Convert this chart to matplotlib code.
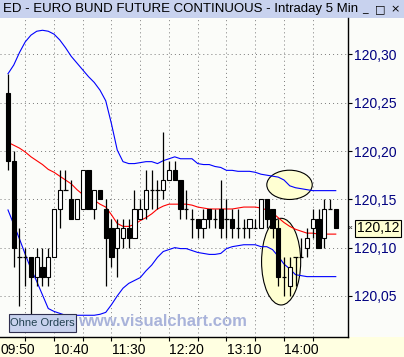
import matplotlib
matplotlib.use('Agg')
import matplotlib.pyplot as plt
from matplotlib.patches import Rectangle, Ellipse
from matplotlib.transforms import blended_transform_factory
import numpy as np

plt.rcParams['font.family'] = ['Liberation Sans', 'DejaVu Sans']
plt.rcParams['lines.scale_dashes'] = False

# ---------------- data ----------------
opens = [120.26,120.19,120.09,120.09,120.09,120.07,120.08,120.07,120.09,120.14,
         120.16,120.15,120.13,120.14,120.18,120.14,120.16,120.14,120.12,120.10,
         120.11,120.12,120.11,120.13,120.14,120.16,120.16,120.16,120.17,120.18,
         120.17,120.14,120.13,120.13,120.12,120.14,120.13,120.14,120.13,120.13,
         120.12,120.12,120.12,120.12,120.12,120.15,120.14,120.12,120.07,120.06,
         120.09,120.09,120.10,120.12,120.13,120.11,120.14,120.14]
highs = [120.28,120.20,120.12,120.10,120.09,120.10,120.10,120.10,120.14,120.18,
         120.18,120.17,120.15,120.18,120.18,120.16,120.16,120.15,120.13,120.13,
         120.13,120.13,120.16,120.15,120.18,120.18,120.17,120.22,120.19,120.19,
         120.17,120.16,120.14,120.13,120.14,120.14,120.14,120.17,120.15,120.14,
         120.14,120.13,120.13,120.13,120.15,120.15,120.14,120.13,120.09,120.09,
         120.09,120.11,120.12,120.14,120.14,120.15,120.15,120.14]
lows = [120.18,120.08,120.04,120.06,120.03,120.06,120.06,120.06,120.09,120.12,
        120.16,120.13,120.13,120.14,120.14,120.13,120.15,120.06,120.08,120.07,
        120.10,120.10,120.11,120.13,120.13,120.14,120.14,120.15,120.17,120.17,
        120.13,120.13,120.11,120.11,120.11,120.12,120.12,120.11,120.11,120.11,
        120.11,120.11,120.11,120.12,120.12,120.12,120.11,120.06,120.05,120.05,
        120.06,120.09,120.09,120.11,120.10,120.10,120.14,120.12]
closes = [120.19,120.10,120.09,120.09,120.07,120.09,120.07,120.09,120.14,120.16,
          120.16,120.13,120.15,120.18,120.14,120.16,120.15,120.11,120.09,120.12,
          120.12,120.11,120.14,120.14,120.16,120.16,120.16,120.17,120.18,120.17,
          120.14,120.14,120.13,120.12,120.13,120.13,120.13,120.12,120.13,120.12,
          120.12,120.12,120.13,120.12,120.15,120.13,120.12,120.07,120.07,120.08,
          120.09,120.09,120.11,120.13,120.10,120.14,120.14,120.12]

ma_line = [120.209,120.206,120.203,120.199,120.194,120.190,120.186,120.181,120.178,120.174,
           120.170,120.166,120.160,120.155,120.151,120.149,120.145,120.142,120.134,120.125,
           120.122,120.122,120.124,120.128,120.131,120.135,120.140,120.143,120.145,120.145,
           120.145,120.145,120.144,120.142,120.141,120.140,120.140,120.140,120.140,120.140,
           120.141,120.142,120.142,120.142,120.141,120.139,120.136,120.131,120.126,120.122,
           120.119,120.117,120.115,120.115,120.114,120.114,120.114,120.114]
upper_band = [120.280,120.289,120.302,120.313,120.320,120.324,120.325,120.324,120.321,120.315,
              120.307,120.298,120.291,120.284,120.277,120.271,120.263,120.252,120.228,120.201,
              120.189,120.187,120.187,120.188,120.189,120.189,120.187,120.190,120.192,120.194,
              120.192,120.192,120.192,120.187,120.186,120.186,120.184,120.183,120.180,120.180,
              120.179,120.179,120.179,120.178,120.176,120.175,120.174,120.173,120.170,120.164,
              120.162,120.161,120.160,120.159,120.159,120.159,120.159,120.159]
lower_band = [120.139,120.124,120.109,120.093,120.078,120.065,120.051,120.037,120.034,120.032,
              120.030,120.030,120.030,120.030,120.030,120.030,120.031,120.033,120.041,120.050,
              120.058,120.063,120.066,120.069,120.076,120.082,120.090,120.096,120.098,120.100,
              120.099,120.099,120.097,120.095,120.094,120.093,120.093,120.094,120.099,120.101,
              120.102,120.103,120.103,120.103,120.101,120.101,120.098,120.091,120.083,120.078,
              120.072,120.071,120.070,120.070,120.070,120.070,120.070,120.070]

price_ticks = [120.05, 120.10, 120.15, 120.20, 120.25, 120.30]
time_labels = ['09:50', '10:40', '11:30', '12:20', '13:10', '14:00']
time_label_bars = [-0.39, 9, 19, 29, 39, 49]
last_price = 120.12
title = 'ED - EURO BUND FUTURE CONTINUOUS - Intraday 5 Min'

# ---------------- figure ----------------
W, H = 404, 357
fig = plt.figure(figsize=(W / 100, H / 100), dpi=100)
fig.patch.set_facecolor('#fbfcf9')

def fx(px):
    return px / W

def fy(py):
    return 1 - py / H

# bottom strip (pale yellow) and title bar, behind everything
fig.patches.append(Rectangle((0, 0), 1, fy(337), transform=fig.transFigure,
                             facecolor='#ffffe1', edgecolor='none', zorder=-2))
fig.patches.append(Rectangle((0, fy(18)), 1, 18 / H, transform=fig.transFigure,
                             facecolor='#c8d2ee', edgecolor='none', zorder=-2))

ax = fig.add_axes([0, fy(337), fx(348), (337 - 18) / H])
ax.set_facecolor('#fbfcf9')
n = len(opens)
xs = np.arange(1, n + 1)
ax.set_xlim(-0.39, 60.13)
ax.set_ylim(120.0075, 120.3377)

# grid
for p in price_ticks:
    ax.axhline(p, color='#808080', lw=0.72, dashes=(0.72, 2.2), zorder=1)
for k in range(4, 55, 5):
    ax.axvline(k, color='#808080', lw=0.72, dashes=(0.72, 2.2), zorder=1)

# ellipses
ax.add_patch(Ellipse((49.96, 120.165), 7.9, 0.0303, facecolor='#ffffd2',
                     edgecolor='black', lw=0.8, zorder=1.5))
ax.add_patch(Ellipse((48.5, 120.0855), 6.8, 0.0897, facecolor='#ffffd2',
                     edgecolor='black', lw=0.8, zorder=1.5))

# bands and MA
ax.plot(xs, upper_band, color='#0000ff', lw=0.8, zorder=2)
ax.plot(xs, lower_band, color='#0000ff', lw=0.8, zorder=2)
ax.plot(xs, ma_line, color='#ff0000', lw=0.8, zorder=2)

# candles
bw = 0.72
for x, o, h, l, c in zip(xs, opens, highs, lows, closes):
    top, bot = max(o, c), min(o, c)
    ax.vlines(x, l, h, color='black', lw=0.9, zorder=3)
    if abs(c - o) < 1e-9:
        ax.hlines(o, x - bw / 2, x + bw / 2, color='black', lw=0.9, zorder=4)
    else:
        fc = 'black' if c < o else 'white'
        ax.add_patch(Rectangle((x - bw / 2, bot), bw, top - bot, facecolor=fc,
                               edgecolor='black', lw=0.8, zorder=4))

# axes styling
for s in ['top', 'left']:
    ax.spines[s].set_visible(False)
ax.spines['right'].set_color('black')
ax.spines['bottom'].set_color('black')
ax.spines['right'].set_linewidth(1.0)
ax.spines['bottom'].set_linewidth(1.0)
ax.yaxis.tick_right()
ax.set_yticks(price_ticks)
ax.set_yticklabels([f'{p:.2f}'.replace('.', ',') for p in price_ticks],
                   color='#000080', fontsize=10)
ax.tick_params(axis='y', direction='out', length=3, width=0.8, pad=1.5, colors='black',
               labelcolor='#000080')
ax.set_xticks(list(range(4, 55, 5)))
ax.set_xticklabels([])
ax.tick_params(axis='x', direction='out', length=3, width=0.8, colors='black')

tr = blended_transform_factory(ax.transData, fig.transFigure)
for k, lab in zip(time_label_bars, time_labels):
    ax.text(k + 0.05, fy(350.5), lab, transform=tr, ha='left', va='center',
            fontsize=10, color='black', clip_on=False, zorder=10)

# last price box
ax.annotate(f'{last_price:.2f}'.replace('.', ','), xy=(1.0, last_price),
            xycoords=('axes fraction', 'data'), xytext=(6.5, 0),
            textcoords='offset points', ha='left', va='center', fontsize=10,
            color='black',
            bbox=dict(boxstyle='square,pad=0.12', facecolor='#ffffd2', edgecolor='black', lw=0.8),
            annotation_clip=False)
ax.text(1.0, last_price, '\u00ab', transform=blended_transform_factory(ax.transAxes, ax.transData),
        ha='left', va='center', fontsize=6, color='black', clip_on=False)

# watermark
ax.text(162 / 348, 1 - (322 - 18) / 319, 'www.visualchart.com', transform=ax.transAxes,
        ha='center', va='center', fontsize=12, fontweight='bold', color='#a9b3da', zorder=5)

# "Ohne Orders" label
fig.patches.append(Rectangle((fx(9), fy(331.5)), fx(67), 18 / H, transform=fig.transFigure,
                             facecolor='#c8d2ee', edgecolor='#303050', lw=0.8, zorder=6))
fig.text(fx(42.5), fy(322.5), 'Ohne Orders', ha='center', va='center', fontsize=8,
         color='#204050', zorder=7)

# title
fig.text(fx(3), fy(9), title, ha='left', va='center', fontsize=9.5, color='black', zorder=2)
for bx, sym in zip([365, 380, 395], ['_', '\u25a1', '\u00d7']):
    fig.text(fx(bx), fy(9), sym, ha='center', va='center', fontsize=8, color='black',
             zorder=4, family='DejaVu Sans')

fig.savefig('out.png', dpi=100, facecolor=fig.get_facecolor())
